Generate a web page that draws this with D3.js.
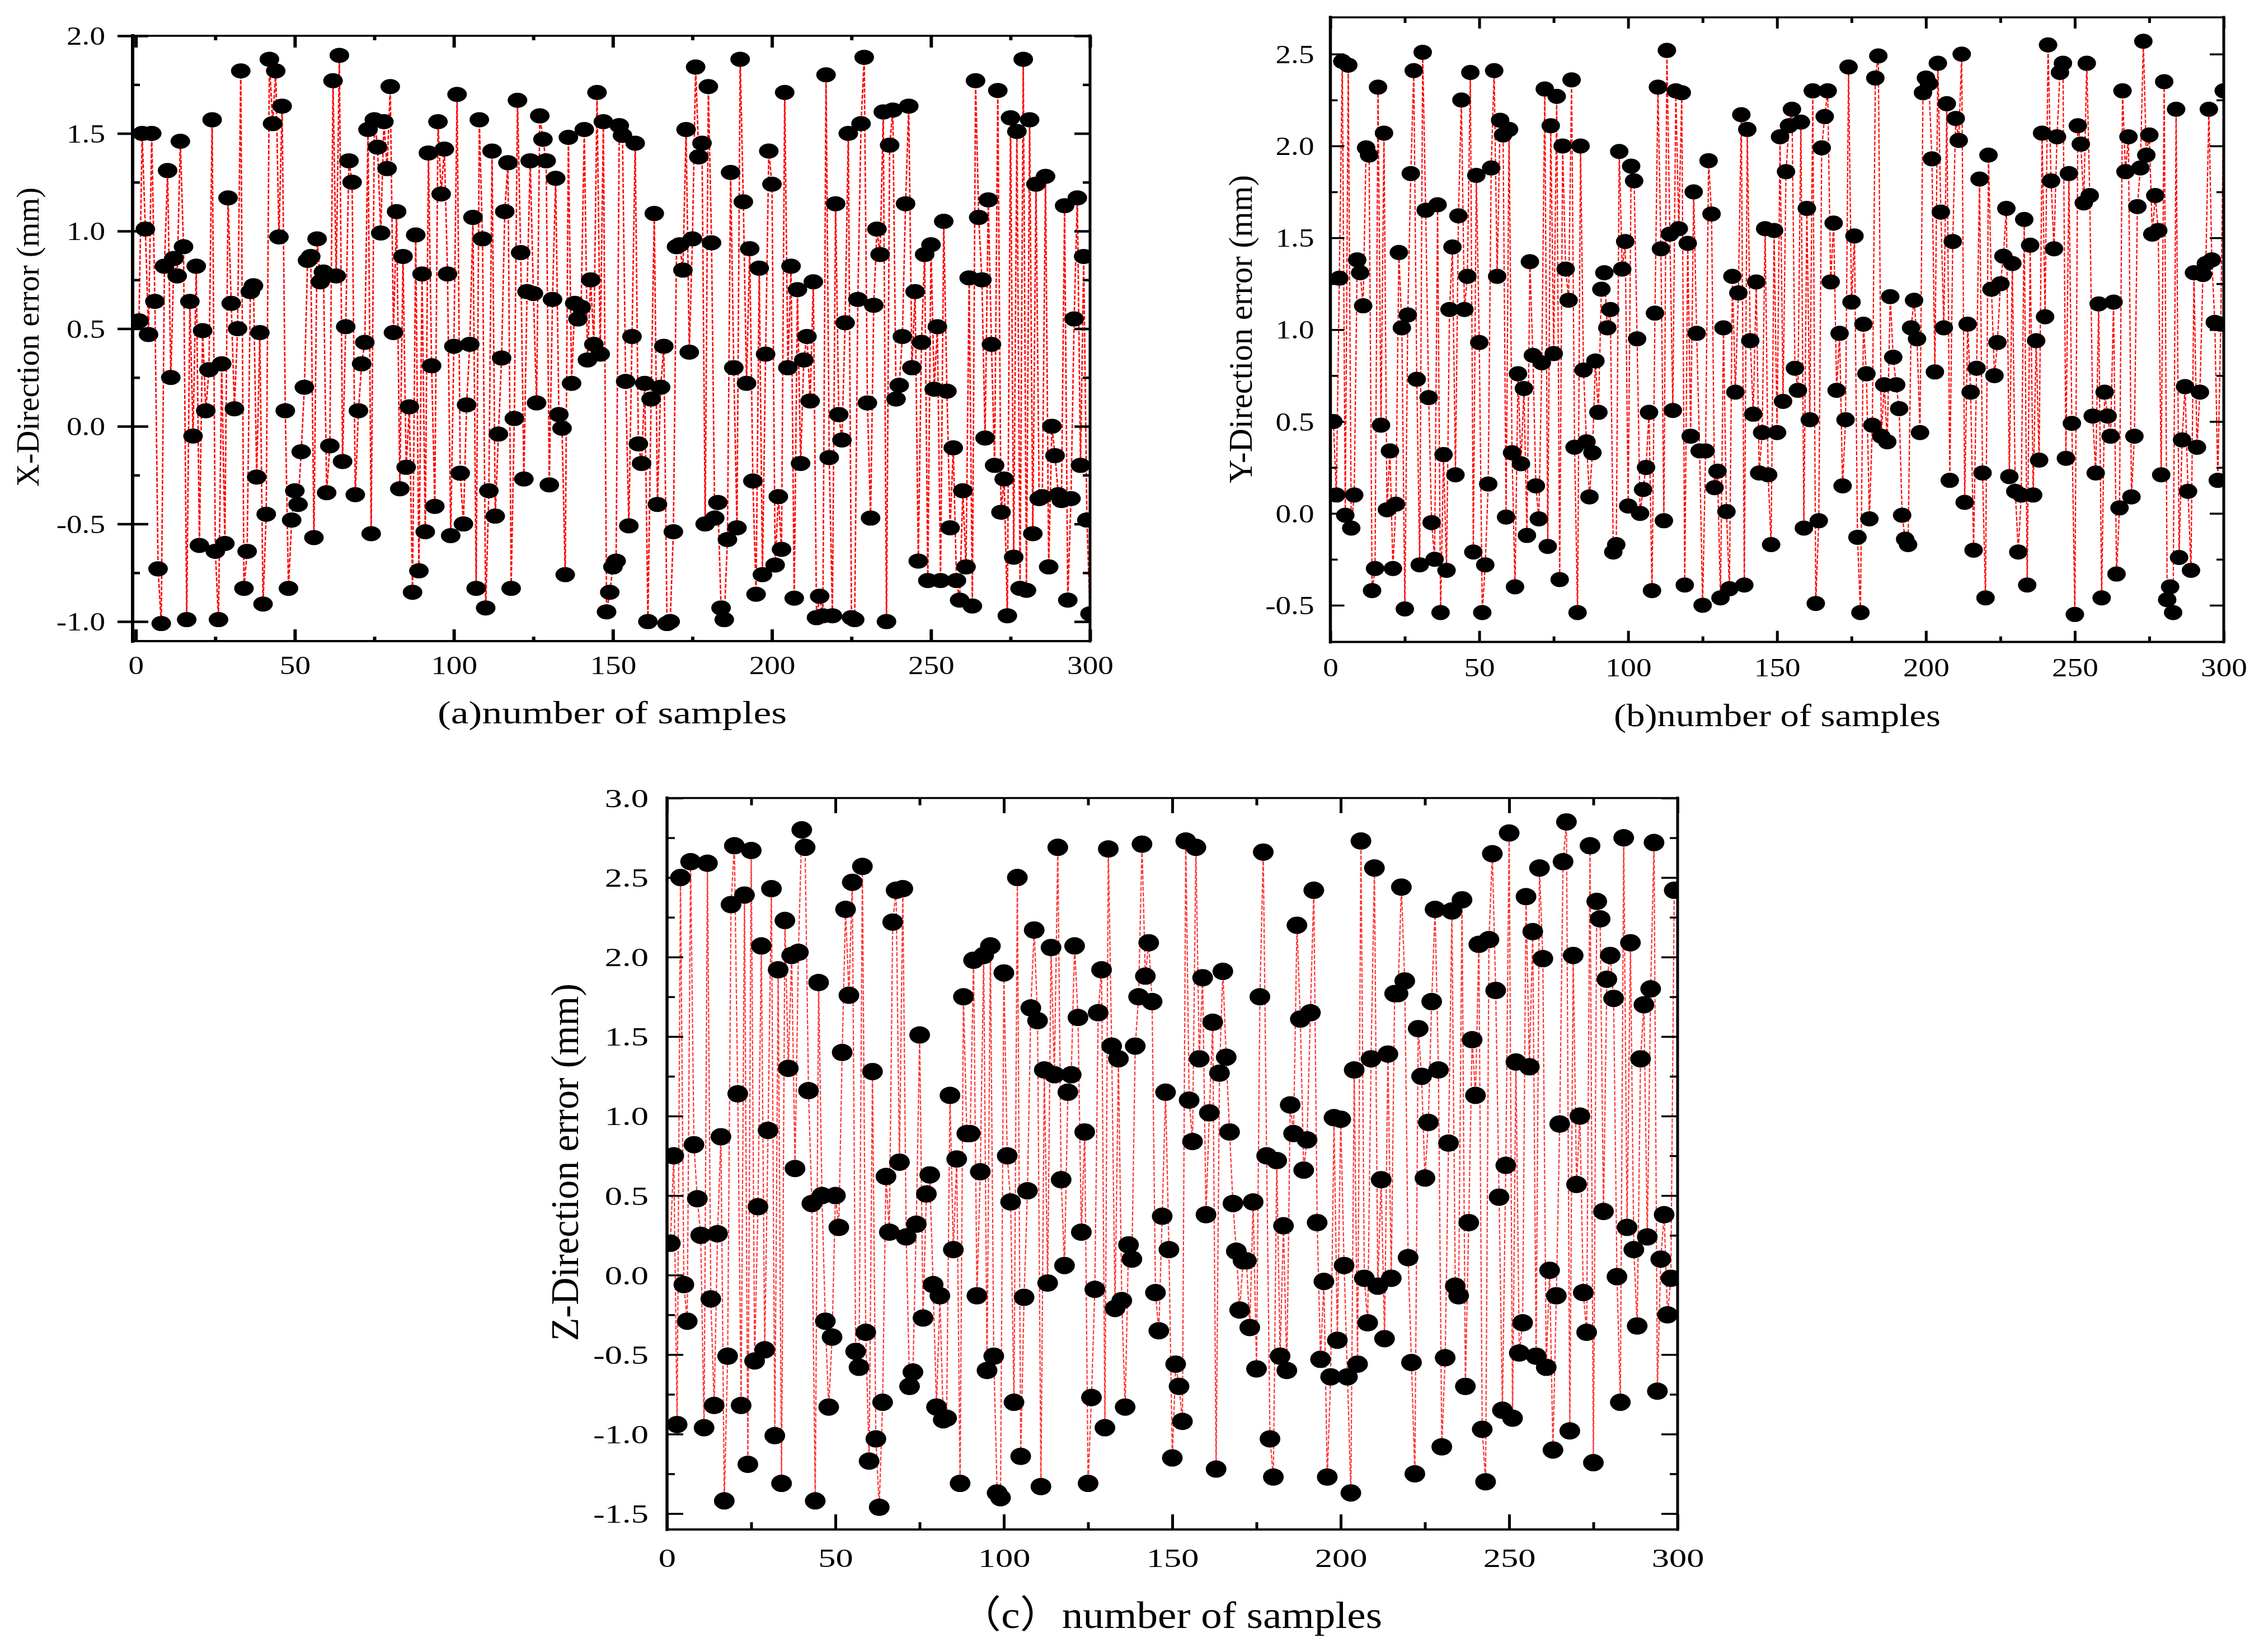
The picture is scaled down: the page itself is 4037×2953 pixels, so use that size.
<!DOCTYPE html>
<html>
<head>
<meta charset="utf-8">
<title>Direction error</title>
<script src="https://cdn.jsdelivr.net/npm/d3@7/dist/d3.min.js"></script>
<style>
  html, body { margin: 0; padding: 0; background: #fff; }
  text { font-family: "Liberation Serif", "Noto Sans CJK SC", serif; fill: #000; }
</style>
</head>
<body>
<div id="chart"></div>
<script>
// X-direction error, samples 1..300
const xErrors = [
  0.54,1.5,1.01,0.47,1.5,0.64,-0.73,-1.01,0.82,1.31,0.25,0.86,0.77,1.46,0.92,-0.99,0.64,-0.05,0.82,-0.61,
  0.49,0.08,0.29,1.57,-0.64,-0.99,0.32,-0.6,1.17,0.63,0.09,0.5,1.82,-0.83,-0.64,0.69,0.72,-0.26,0.48,-0.91,
  -0.45,1.88,1.55,1.82,0.97,1.64,0.08,-0.83,-0.48,-0.33,-0.4,-0.13,0.2,0.85,0.87,-0.57,0.96,0.74,0.79,-0.34,
  -0.1,1.77,0.77,1.9,-0.18,0.51,1.36,1.25,-0.35,0.08,0.32,0.43,1.52,-0.55,1.57,1.43,0.99,1.56,1.32,1.74,
  0.48,1.1,-0.32,0.87,-0.21,0.1,-0.85,0.98,-0.74,0.78,-0.54,1.4,0.31,-0.41,1.56,1.19,1.42,0.78,-0.56,0.41,
  1.7,-0.24,-0.5,0.11,0.42,1.07,-0.83,1.57,0.96,-0.93,-0.33,1.41,-0.46,-0.04,0.35,1.1,1.35,-0.83,0.04,1.67,
  0.89,-0.27,0.69,1.36,0.68,0.12,1.59,1.47,1.36,-0.3,0.65,1.27,0.06,-0.01,-0.76,1.48,0.22,0.63,0.55,0.61,
  1.52,0.34,0.75,0.42,1.71,0.37,1.56,-0.95,-0.85,-0.72,-0.69,1.54,1.49,0.23,-0.51,0.46,1.45,-0.09,-0.19,0.22,
  -1.0,0.14,1.09,-0.4,0.2,0.41,-1.01,-1.0,-0.54,0.92,0.93,0.8,1.52,0.38,0.96,1.84,1.38,1.45,-0.5,1.74,
  0.94,-0.47,-0.39,-0.93,-0.99,-0.58,1.3,0.3,-0.52,1.88,1.15,0.22,0.91,-0.28,-0.86,0.81,-0.76,0.37,1.41,1.24,
  -0.71,-0.36,-0.63,1.71,0.3,0.82,-0.88,0.7,-0.19,0.34,0.46,0.13,0.74,-0.98,-0.87,-0.97,1.8,-0.16,-0.97,1.14,
  0.06,-0.07,0.53,1.5,-0.98,-0.99,0.65,1.55,1.89,0.12,-0.47,0.62,1.01,0.88,1.61,-1.0,1.44,1.62,0.14,0.21,
  0.46,1.14,1.64,0.3,0.69,-0.69,0.43,0.88,-0.79,0.93,0.19,0.51,-0.79,1.05,0.18,-0.52,-0.11,-0.79,-0.89,-0.33,
  -0.72,0.76,-0.92,1.77,1.07,0.75,-0.06,1.16,0.42,-0.2,1.72,-0.44,-0.27,-0.97,1.58,-0.67,1.51,-0.83,1.88,-0.84,
  1.57,-0.55,1.24,-0.37,-0.36,1.28,-0.72,0,-0.15,-0.35,-0.38,1.13,-0.89,-0.37,0.55,1.17,-0.2,0.87,-0.48,-0.96
];
// Y-direction error
const yErrors = [
  0.5,0.1,1.28,2.46,-0.01,2.44,-0.08,0.1,1.38,1.31,1.13,1.99,1.95,-0.42,-0.3,2.32,0.48,2.07,0.02,0.34,
  -0.3,0.05,1.42,1.01,-0.52,1.08,1.85,2.41,0.73,-0.28,2.51,1.65,0.63,-0.05,-0.25,1.68,-0.54,0.32,-0.31,1.11,
  1.45,0.21,1.62,2.25,1.11,1.29,2.4,-0.21,1.84,0.93,-0.54,-0.28,0.16,1.88,2.41,1.29,2.14,2.06,-0.02,2.09,
  0.33,-0.4,0.76,0.27,0.68,-0.12,1.37,0.86,0.15,-0.03,0.82,2.31,-0.18,2.11,0.87,2.27,-0.36,2.0,1.33,1.16,
  2.36,0.36,-0.54,2.0,0.78,0.39,0.09,0.33,0.83,0.55,1.22,1.31,1.01,1.11,-0.21,-0.17,1.97,1.33,1.48,0.04,
  1.89,1.81,0.95,0,0.13,0.25,0.55,-0.42,1.09,2.32,1.44,-0.04,2.52,1.52,0.56,2.3,1.55,2.29,-0.39,1.47,
  0.42,1.75,0.98,0.34,-0.5,0.34,1.92,1.63,0.14,0.23,-0.46,1.01,0.01,-0.41,1.29,0.66,1.2,2.17,-0.39,2.09,
  0.94,0.54,1.26,0.22,0.44,1.55,0.21,-0.17,1.54,0.44,2.05,0.61,1.86,2.11,2.2,0.79,0.67,2.13,-0.08,1.66,
  0.51,2.3,-0.49,-0.04,1.99,2.16,2.3,1.26,1.58,0.67,0.98,0.15,0.51,2.43,1.15,1.51,-0.13,-0.54,1.03,0.76,
  -0.03,0.48,2.37,2.49,0.42,0.7,0.39,1.18,0.85,0.7,0.57,-0.01,-0.14,-0.17,1.01,1.16,0.95,0.44,2.29,2.37,
  2.34,1.93,0.77,2.45,1.64,1.01,2.23,0.18,1.48,2.15,2.03,2.5,0.06,1.03,0.66,-0.2,0.79,1.82,0.22,-0.46,
  1.95,1.22,0.75,0.93,1.25,1.4,1.66,0.2,1.36,0.12,-0.21,0.1,1.6,-0.39,1.46,0.1,0.94,0.29,2.07,1.07,
  2.55,1.81,1.44,2.05,2.4,2.45,0.3,1.85,0.49,-0.55,2.11,2.01,1.69,2.45,1.73,0.53,0.22,1.14,-0.46,0.66,
  0.53,0.42,1.15,-0.33,0.03,2.3,1.86,2.05,0.09,0.42,1.67,1.88,2.57,1.95,2.06,1.52,1.73,1.54,0.21,2.35,
  -0.47,-0.4,-0.54,2.2,-0.24,0.4,0.69,0.12,-0.31,1.31,0.36,0.66,1.3,1.36,2.2,1.38,1.04,0.18,1.03,2.3
];
// Z-direction error
const zErrors = [
  0.2,0.75,-0.94,2.5,-0.06,-0.29,2.6,0.82,0.48,0.25,-0.96,2.59,-0.15,-0.82,0.26,0.87,-1.42,-0.51,2.33,2.7,
  1.14,-0.82,2.39,-1.19,2.67,-0.54,0.43,2.07,-0.47,0.91,2.43,-1.01,1.92,-1.31,2.23,1.3,2.01,0.67,2.03,2.8,
  2.69,1.16,0.45,-1.42,1.84,0.5,-0.29,-0.83,-0.39,0.5,0.3,1.4,2.3,1.76,2.47,-0.48,-0.58,2.57,-0.36,-1.17,
  1.28,-1.03,-1.46,-0.8,0.62,0.27,2.22,2.42,0.71,2.43,0.24,-0.7,-0.61,0.32,1.51,-0.27,0.51,0.63,-0.06,-0.83,
  -0.13,-0.91,-0.9,1.13,0.16,0.73,-1.31,1.75,0.89,0.89,1.98,-0.13,0.65,2.01,-0.6,2.07,-0.51,-1.37,-1.4,1.9,
  0.75,0.46,-0.8,2.5,-1.14,-0.14,0.53,1.68,2.17,1.6,-1.33,1.29,-0.05,2.06,1.26,2.69,0.6,0.06,1.15,1.26,
  2.07,1.62,0.27,0.9,-1.31,-0.77,-0.09,1.65,1.92,-0.96,2.68,1.44,-0.21,1.36,-0.16,-0.83,0.19,0.1,1.44,1.75,
  2.71,1.88,2.09,1.72,-0.11,-0.35,0.37,1.15,0.16,-1.15,-0.56,-0.7,-0.92,2.73,1.1,0.84,2.69,1.36,1.87,0.38,
  1.02,1.59,-1.22,1.27,1.91,1.37,0.9,0.45,0.15,-0.22,0.09,0.09,-0.33,0.46,-0.59,1.75,2.66,0.75,-1.03,-1.27,
  0.72,-0.51,0.31,-0.6,1.07,0.89,2.2,1.61,0.66,0.85,1.65,2.42,0.33,-0.53,-0.04,-1.27,-0.64,0.99,-0.41,0.98,
  0.06,-0.64,-1.37,1.29,-0.56,2.73,-0.02,-0.3,1.36,2.56,-0.07,0.6,-0.4,1.39,-0.02,1.77,1.77,2.44,1.85,0.11,
  -0.55,-1.25,1.55,1.25,0.61,0.96,1.72,2.3,1.29,-1.08,-0.52,0.83,2.29,-0.07,-0.13,2.36,-0.7,0.33,1.48,1.13,
  2.08,-0.97,-1.3,2.11,2.65,1.79,0.49,-0.85,0.69,2.78,-0.9,1.34,-0.49,-0.3,2.38,1.31,2.16,-0.51,2.56,1.99,
  -0.58,0.03,-1.1,-0.13,0.95,2.6,2.85,-0.98,2.01,0.57,1.0,-0.11,-0.36,2.7,-1.18,2.35,2.24,0.4,1.86,2.01,
  1.74,-0.01,-0.8,2.75,0.3,2.09,0.16,-0.32,1.36,1.7,0.24,1.8,2.72,-0.73,0.1,0.38,-0.25,-0.02,2.42
];

const xMajorTicks = [0, 50, 100, 150, 200, 250, 300];
const xMinorTicks = [25, 75, 125, 175, 225, 275];
const yMajorA = [-1, -0.5, 0, 0.5, 1, 1.5, 2];
const yMinorA = [-0.75, -0.25, 0.25, 0.75, 1.25, 1.75];
const yMajorB = [-0.5, 0, 0.5, 1, 1.5, 2, 2.5];
const yMinorB = [-0.25, 0.25, 0.75, 1.25, 1.75, 2.25];
const yMajorC = [-1.5, -1, -0.5, 0, 0.5, 1, 1.5, 2, 2.5, 3];
const yMinorC = [-1.25, -0.75, -0.25, 0.25, 0.75, 1.25, 1.75, 2.25, 2.75];

const width = 4037, height = 2953;
const svg = d3.select('#chart').append('svg')
    .attr('width', width)
    .attr('height', height)
    .style('display', 'block');

function drawPanel(p) {
    const x = d3.scaleLinear().domain(p.xDomain).range([p.left, p.right]);
    const y = d3.scaleLinear().domain(p.yDomain).range([p.bottom, p.top]);
    const w = p.right - p.left, h = p.bottom - p.top;
    const g = svg.append('g');

    g.append('clipPath').attr('id', p.id + '-clip')
        .append('rect')
        .attr('x', p.left).attr('y', p.top)
        .attr('width', w).attr('height', h);

    const points = p.values.map((v, i) => ({ n: i + 1, v }));
    const plot = g.append('g').attr('clip-path', `url(#${p.id}-clip)`);

    plot.append('path')
        .datum(points)
        .attr('d', d3.line().x(d => x(d.n)).y(d => y(d.v)))
        .attr('fill', 'none')
        .attr('stroke', p.lineColor)
        .attr('stroke-width', p.lineWidth)
        .attr('stroke-dasharray', '7 3');

    plot.selectAll('ellipse')
        .data(points)
        .enter()
        .append('ellipse')
        .attr('cx', d => x(d.n))
        .attr('cy', d => y(d.v))
        .attr('rx', p.rx)
        .attr('ry', p.ry)
        .attr('fill', '#000');

    // tick marks on all four sides
    const tickAxis = (fn, scale, ticks, size, tx, ty, sw) => {
        const a = g.append('g')
            .attr('transform', `translate(${tx},${ty})`)
            .call(fn(scale).tickValues(ticks).tickSizeInner(-size).tickSizeOuter(0).tickFormat(''));
        a.select('.domain').remove();
        a.selectAll('line').attr('stroke', '#000').attr('stroke-width', sw);
        return a;
    };
    tickAxis(d3.axisBottom, x, xMajorTicks, p.xMajorLen, 0, p.bottom, p.xTickWidth);
    tickAxis(d3.axisBottom, x, xMinorTicks, p.xMinorLen, 0, p.bottom, p.xTickWidth);
    tickAxis(d3.axisTop, x, xMajorTicks, p.xMajorLen, 0, p.top, p.xTickWidth);
    tickAxis(d3.axisTop, x, xMinorTicks, p.xMinorLen, 0, p.top, p.xTickWidth);
    const leftMajor = tickAxis(d3.axisLeft, y, p.yMajor, p.yMajorLen, p.left, 0, p.yTickWidth);
    tickAxis(d3.axisLeft, y, p.yMinor, p.yMinorLen, p.left, 0, p.yTickWidth);
    tickAxis(d3.axisRight, y, p.yMajor, p.yMajorLen, p.right, 0, p.yTickWidth);
    tickAxis(d3.axisRight, y, p.yMinor, p.yMinorLen, p.right, 0, p.yTickWidth);
    if (p.crossTicks) {
        // panel (a) has its y ticks running through the spine
        leftMajor.selectAll('line').attr('x1', -p.crossTicks);
    }

    // tick labels, wider than the font's natural shape
    const xLabels = g.append('g')
        .attr('transform', `translate(0,${p.bottom})`)
        .call(d3.axisBottom(x).tickValues(xMajorTicks).tickSize(0).tickFormat(d3.format('d')));
    xLabels.select('.domain').remove();
    xLabels.selectAll('text')
        .attr('y', p.xLabelGap)
        .attr('dy', '0.34em')
        .attr('transform', `scale(${p.labelStretch},1)`)
        .attr('font-size', p.labelSize)
        .attr('font-family', '"Liberation Serif", serif')
        .attr('fill', '#000');

    const yLabels = g.append('g')
        .attr('transform', `translate(${p.left},0)`)
        .call(d3.axisLeft(y).tickValues(p.yMajor).tickSize(0).tickFormat(d => d3.format('.1f')(d).replace('\u2212', '-')));
    yLabels.select('.domain').remove();
    yLabels.selectAll('text')
        .attr('x', -p.yLabelGap / p.labelStretch)
        .attr('dy', '0.34em')
        .attr('transform', `scale(${p.labelStretch},1)`)
        .attr('font-size', p.labelSize)
        .attr('font-family', '"Liberation Serif", serif')
        .attr('fill', '#000');

    // spines
    const spines = [
        [p.left, p.top, p.left, p.bottom, p.spines[0]],
        [p.left, p.bottom, p.right, p.bottom, p.spines[1]],
        [p.right, p.top, p.right, p.bottom, p.spines[2]],
        [p.left, p.top, p.right, p.top, p.spines[3]]
    ];
    g.selectAll('line.spine')
        .data(spines)
        .enter()
        .append('line')
        .attr('class', 'spine')
        .attr('x1', d => d[0]).attr('y1', d => d[1])
        .attr('x2', d => d[2]).attr('y2', d => d[3])
        .attr('stroke', '#000')
        .attr('stroke-width', d => d[4])
        .attr('stroke-linecap', 'square');

    // titles
    g.append('text')
        .attr('x', p.xTitle[0])
        .attr('y', p.xTitle[1])
        .attr('font-size', p.xTitleSize)
        .attr('textLength', p.xTitle[2])
        .attr('lengthAdjust', 'spacingAndGlyphs')
        .text(p.xTitleText);

    g.append('text')
        .attr('transform', `translate(${p.yTitle[0]},${p.yTitle[1]}) rotate(-90)`)
        .attr('font-size', p.yTitleSize)
        .attr('textLength', p.yTitle[2])
        .attr('lengthAdjust', 'spacingAndGlyphs')
        .text(p.yTitleText);
}

drawPanel({
    id: 'a', values: xErrors,
    xDomain: [-1, 300], yDomain: [-1.1, 2.0],
    left: 237, right: 1948, top: 64, bottom: 1146,
    yMajor: yMajorA, yMinor: yMinorA,
    rx: 17.5, ry: 13.5, lineColor: '#ff0000', lineWidth: 2.6,
    xMajorLen: 21, xMinorLen: 8, yMajorLen: 28, yMinorLen: 13, crossTicks: 27,
    xTickWidth: 6, yTickWidth: 4.5,
    labelSize: 46, labelStretch: 1.2, xLabelGap: 43, yLabelGap: 49,
    spines: [6, 4, 5, 3.5],
    xTitle: [782, 1293, 624], xTitleSize: 58, xTitleText: '(a)number of samples',
    yTitle: [69, 870, 535], yTitleSize: 58, yTitleText: 'X-Direction error (mm)'
});

drawPanel({
    id: 'b', values: yErrors,
    xDomain: [0, 300], yDomain: [-0.7, 2.7],
    left: 2377.5, right: 3974, top: 31, bottom: 1147.6,
    yMajor: yMajorB, yMinor: yMinorB,
    rx: 16.5, ry: 13.5, lineColor: '#ff0000', lineWidth: 2.2,
    xMajorLen: 20, xMinorLen: 10, yMajorLen: 25, yMinorLen: 13,
    xTickWidth: 5, yTickWidth: 3.5,
    labelSize: 46, labelStretch: 1.2, xLabelGap: 46, yLabelGap: 29,
    spines: [5.5, 4, 5, 3.5],
    xTitle: [2884, 1298, 584], xTitleSize: 58, xTitleText: '(b)number of samples',
    yTitle: [2237, 864, 551], yTitleSize: 60, yTitleText: 'Y-Direction error (mm)'
});

drawPanel({
    id: 'c', values: zErrors,
    xDomain: [0, 300], yDomain: [-1.6, 3.0],
    left: 1192, right: 2998, top: 1426.5, bottom: 2734,
    yMajor: yMajorC, yMinor: yMinorC,
    rx: 18.5, ry: 15.5, lineColor: '#ff3333', lineWidth: 2.2,
    xMajorLen: 27, xMinorLen: 13, yMajorLen: 29, yMinorLen: 14,
    xTickWidth: 5, yTickWidth: 3.5,
    labelSize: 47, labelStretch: 1.33, xLabelGap: 51, yLabelGap: 33,
    spines: [5.5, 4, 5, 3.5],
    xTitle: [1714, 2910, 756], xTitleSize: 68, xTitleText: '（c）number of samples',
    yTitle: [1033, 2397, 639], yTitleSize: 70, yTitleText: 'Z-Direction error (mm)'
});
</script>
</body>
</html>
